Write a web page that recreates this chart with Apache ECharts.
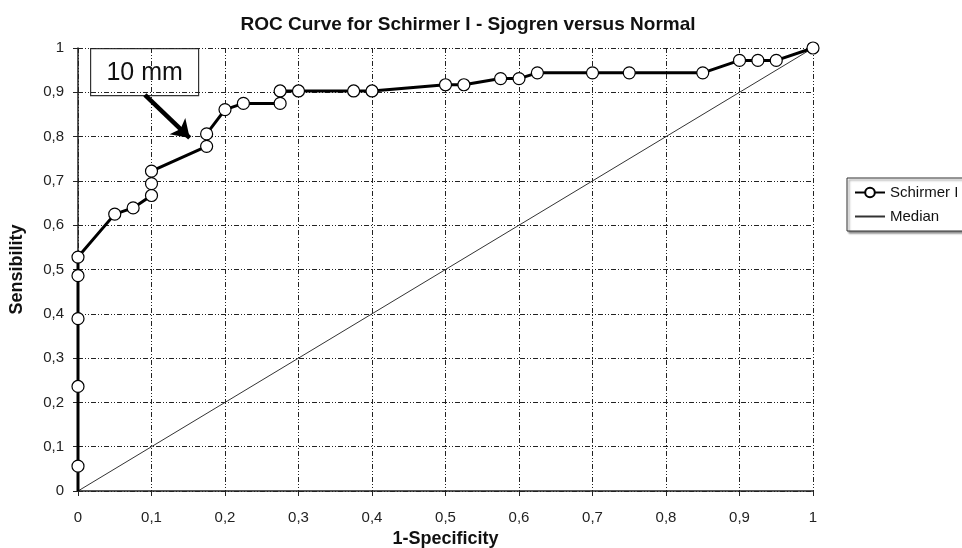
<!DOCTYPE html>
<html>
<head>
<meta charset="utf-8">
<script src="https://cdn.jsdelivr.net/npm/echarts@6/dist/echarts.min.js"></script>
<style>html,body{margin:0;padding:0;background:#fff;}#c{width:962px;height:548px;}</style>
</head>
<body>
<div id="c"></div>
<script>
var titleText = 'ROC Curve for Schirmer I - Sjogren versus Normal';
var xName = '1-Specificity';
var yName = 'Sensibility';
var seriesNames = ['Schirmer I', 'Median'];
var rocX = [0, 0, 0, 0, 0, 0, 0.05, 0.075, 0.1, 0.1, 0.1, 0.175, 0.175, 0.2, 0.225, 0.275, 0.275, 0.3, 0.375, 0.4, 0.5, 0.525, 0.575, 0.6, 0.625, 0.7, 0.75, 0.85, 0.9, 0.925, 0.95, 1];
var rocY = [0, 0.056, 0.236, 0.389, 0.486, 0.528, 0.625, 0.639, 0.667, 0.694, 0.722, 0.778, 0.806, 0.861, 0.875, 0.875, 0.903, 0.903, 0.903, 0.903, 0.917, 0.917, 0.931, 0.931, 0.944, 0.944, 0.944, 0.944, 0.972, 0.972, 0.972, 1];
var medianX = [0, 1];
var medianY = [0, 1];
var annotationText = '10 mm';
var arrowFrom = [0.091, 0.894];
var arrowTo = [0.152, 0.797];

var font = '"Liberation Sans", Arial, sans-serif';
function fmt(v){ return String(Math.round(v*10)/10).replace('.', ','); }
var rocData = rocX.map(function(x, i){
  var d = {value: [x, rocY[i]]};
  if (i === 0) { d.symbol = 'none'; }
  return d;
});
var medianData = medianX.map(function(x, i){ return [x, medianY[i]]; });
var gridDash = [5, 2, 1, 2, 1, 2];

var chart = echarts.init(document.getElementById('c'), null, {renderer:'canvas'});
chart.setOption({
  animation: false,
  backgroundColor: '#fff',
  title: {
    text: titleText, left: 463, top: 10, textAlign: 'center',
    textStyle: {fontFamily: font, fontSize: 19, fontWeight: 'bold', color: '#111'}
  },
  grid: {left: 78, right: 149, top: 48, bottom: 57, containLabel: false, outerBoundsMode: 'none'},
  legend: {
    orient: 'vertical', left: 847, top: 178,
    data: [
      {name: seriesNames[0]},
      {name: seriesNames[1], itemStyle: {opacity: 0, borderWidth: 0}}
    ],
    itemWidth: 30, itemHeight: 12, itemGap: 9,
    padding: [7, 20, 7, 7],
    borderColor: '#333', borderWidth: 1,
    shadowColor: 'rgba(0,0,0,0.45)', shadowOffsetX: 2, shadowOffsetY: 2, shadowBlur: 2,
    backgroundColor: '#fff',
    textStyle: {fontFamily: font, fontSize: 15, color: '#111'}
  },
  xAxis: {
    type: 'value', min: 0, max: 1, interval: 0.1,
    name: xName, nameLocation: 'middle', nameGap: 39,
    nameTextStyle: {fontFamily: font, fontSize: 18, fontWeight: 'bold', color: '#111'},
    axisLine: {show: true, onZero: false, lineStyle: {color: '#222', width: 1.5}},
    axisTick: {show: true, inside: false, length: 5, lineStyle: {color: '#222'}},
    axisLabel: {fontFamily: font, fontSize: 15, color: '#222', margin: 19, formatter: fmt},
    splitLine: {show: true, lineStyle: {color: '#222', width: 1, type: gridDash}}
  },
  yAxis: {
    type: 'value', min: 0, max: 1, interval: 0.1,
    name: yName, nameLocation: 'middle', nameGap: 52, nameRotate: 90,
    nameTextStyle: {fontFamily: font, fontSize: 18, fontWeight: 'bold', color: '#111'},
    axisLine: {show: true, onZero: false, lineStyle: {color: '#222', width: 1.5}},
    axisTick: {show: true, inside: false, length: 5, lineStyle: {color: '#222'}},
    axisLabel: {fontFamily: font, fontSize: 15, color: '#222', margin: 14, formatter: fmt},
    splitLine: {show: true, lineStyle: {color: '#222', width: 1, type: gridDash}}
  },
  series: [
    {
      name: seriesNames[1], type: 'line', data: medianData,
      symbol: 'none', z: 2,
      lineStyle: {color: '#333', width: 1},
      itemStyle: {color: '#333'}
    },
    {
      name: seriesNames[0], type: 'line', data: rocData,
      symbol: 'circle', symbolSize: 12, showAllSymbol: true, z: 3,
      lineStyle: {color: '#000', width: 3},
      itemStyle: {color: '#fff', borderColor: '#000', borderWidth: 1.2},
      markLine: {
        silent: true, animation: false,
        symbol: ['none', 'arrow'], symbolSize: 17,
        label: {show: false},
        lineStyle: {color: '#000', width: 4.5, type: 'solid'},
        data: [[{coord: arrowFrom}, {coord: arrowTo}]]
      }
    }
  ],
  graphic: [
    {
      type: 'group', left: 90, top: 48, z: 10,
      children: [
        {type: 'rect', shape: {x: 0, y: 0, width: 108, height: 47},
         style: {fill: '#fff', stroke: '#333', lineWidth: 1.2}},
        {type: 'text', x: 54, y: 25,
         style: {text: annotationText, fontFamily: font, fontSize: 25, fill: '#111',
                 textAlign: 'center', textVerticalAlign: 'middle'}}
      ]
    }
  ]
});
</script>
</body>
</html>
